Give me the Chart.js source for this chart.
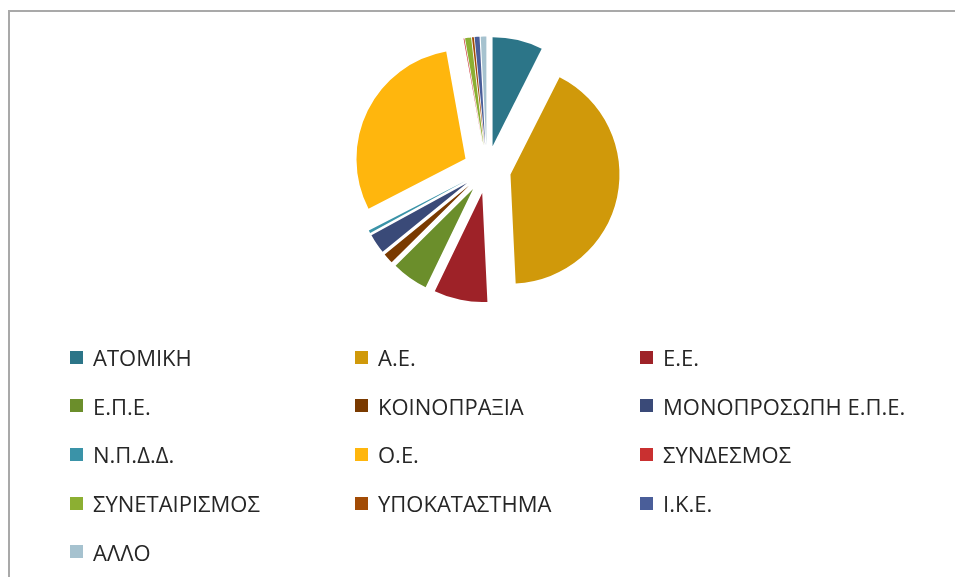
<!DOCTYPE html>
<html>
<head>
<meta charset="utf-8">
<script src="https://cdn.jsdelivr.net/npm/chart.js@4/dist/chart.umd.min.js"></script>
<style>
  html, body { margin: 0; padding: 0; background: #fff; }
  body { width: 955px; height: 577px; overflow: hidden; position: relative; }
  #frame {
    position: absolute; left: 8px; top: 10px; width: 960px; height: 600px;
    border-left: 2px solid #a9a9a9; border-top: 2px solid #a9a9a9;
  }
  #pie { position: absolute; left: 0; top: 0; }
  #legend {
    position: absolute; left: 70px; top: 333px;
    display: grid; grid-template-columns: 285px 285px 285px;
    grid-auto-rows: 48.6px; align-items: center;
    font-family: "Open Sans", sans-serif; font-size: 22px; color: #262626;
  }
  .item { display: flex; align-items: center; white-space: nowrap; }
  .box { width: 13px; height: 13px; margin-right: 10px; flex: none; }
</style>
</head>
<body>
<div id="frame"></div>
<canvas id="pie" width="955" height="340"></canvas>
<div id="legend"></div>
<script>
const categorias = [
  "ΑΤΟΜΙΚΗ", "Α.Ε.", "Ε.Ε.", "Ε.Π.Ε.", "ΚΟΙΝΟΠΡΑΞΙΑ", "ΜΟΝΟΠΡΟΣΩΠΗ Ε.Π.Ε.",
  "Ν.Π.Δ.Δ.", "Ο.Ε.", "ΣΥΝΔΕΣΜΟΣ", "ΣΥΝΕΤΑΙΡΙΣΜΟΣ", "ΥΠΟΚΑΤΑΣΤΗΜΑ", "Ι.Κ.Ε.", "ΑΛΛΟ"
];
const valores = [7.44, 41.8, 7.92, 5.42, 1.53, 2.92, 0.42, 29.72, 0.11, 0.89, 0.28, 0.72, 0.83];
const cores = [
  "#2c7588", "#d0990a", "#9e2228", "#6b8e2b", "#7a3a00", "#3a4a78",
  "#3a93a8", "#ffb60d", "#c93030", "#8caf32", "#a24b05", "#4a5e99", "#a6c2cf"
];

const EXPLODE = 24; // deslocamento de cada fatia (px), igual para todas

// desenha cada fatia deslocada ao longo da bissetriz, sem encolher o ângulo
const explodirFatias = {
  id: "explodirFatias",
  beforeDatasetDraw(chart, args) {
    const ctx = chart.ctx;
    args.meta.data.forEach((arc) => {
      const meio = (arc.startAngle + arc.endAngle) / 2;
      ctx.save();
      ctx.translate(Math.cos(meio) * EXPLODE, Math.sin(meio) * EXPLODE);
      arc.draw(ctx);
      ctx.restore();
    });
    return false;
  }
};

const chart = new Chart(document.getElementById("pie").getContext("2d"), {
  type: "pie",
  data: {
    labels: categorias,
    datasets: [{
      data: valores,
      backgroundColor: cores,
      borderWidth: 0,
      hoverOffset: 0
    }]
  },
  options: {
    responsive: false,
    animation: false,
    radius: 109,
    layout: { padding: { left: 19, right: 0, top: 0, bottom: 1 } },
    plugins: {
      legend: { display: false },
      tooltip: { enabled: false }
    }
  },
  plugins: [explodirFatias]
});

const legenda = document.getElementById("legend");
categorias.forEach((nome, i) => {
  const div = document.createElement("div");
  div.className = "item";
  div.innerHTML = `<span class="box" style="background:${cores[i]}"></span><span>${nome}</span>`;
  legenda.appendChild(div);
});
</script>
</body>
</html>
